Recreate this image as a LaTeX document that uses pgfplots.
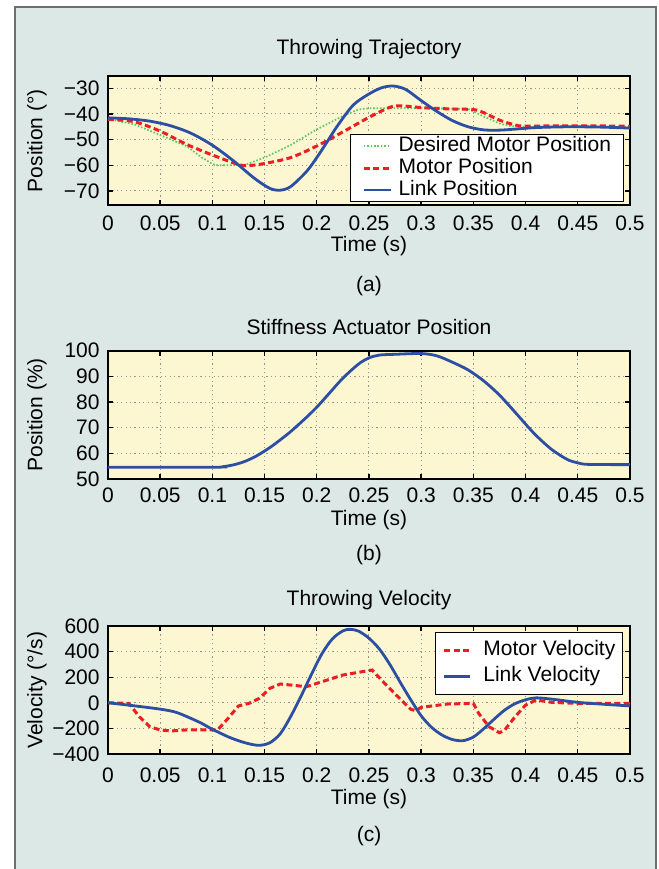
\documentclass[border=0pt]{standalone}
\usepackage{fontspec}
\setmainfont{Liberation Sans}
\usepackage{pgfplots}
\pgfplotsset{compat=1.18}
\definecolor{panelbg}{RGB}{220,232,229}
\definecolor{panelline}{RGB}{110,110,110}
\definecolor{axisbg}{RGB}{252,247,208}
\definecolor{linkblue}{RGB}{45,78,165}
\definecolor{motorred}{RGB}{236,30,36}
\definecolor{desgreen}{RGB}{90,200,100}
\definecolor{gridc}{RGB}{150,150,140}
\pgfplotsset{
  myax/.style={
    scale only axis, width=261pt, xmin=0, xmax=0.5,
    /pgf/number format/assume math mode=true,
    axis background/.style={fill=axisbg},
    axis line style={line width=0.9pt, black},
    tick align=inside, major tick length=2.5pt,
    every tick/.style={black, line width=0.7pt},
    grid=major,
    major grid style={line width=0.5pt, color=gridc, dash pattern=on 0.6pt off 1.6pt},
    xtick={0,0.05,0.1,0.15,0.2,0.25,0.3,0.35,0.4,0.45,0.5},
    xticklabels={0,0.05,0.1,0.15,0.2,0.25,0.3,0.35,0.4,0.45,0.5},
    yticklabel style={inner sep=0pt, xshift=-4pt},
    xlabel={Time (s)},
    xlabel style={at={(axis description cs:0.5,0)}, anchor=base},
    ylabel style={at={(axis description cs:-0.136,0.5)}, anchor=center},
    title style={at={(axis description cs:0.5,1)}, anchor=base},
    legend cell align=left,
  },
  linkstyle/.style={linkblue, line width=1.4pt, smooth},
  motorstyle/.style={motorred, line width=1.5pt, dash pattern=on 3pt off 1.7pt},
  desstyle/.style={desgreen, line width=0.85pt, dash pattern=on 0.8pt off 0.9pt},
}
\begin{document}
\fontsize{10.5}{12.6}\selectfont
\begin{tikzpicture}
\path[use as bounding box] (0pt,0pt) rectangle (329.5pt,-434.5pt);
\fill[white] (0pt,0pt) rectangle (329.5pt,-434.5pt);
\fill[panelbg] (7.5pt,-3.6pt) rectangle (328pt,-434.5pt);
\draw[line width=0.8pt, panelline] (7.5pt,-434.5pt) -- (7.5pt,-3.6pt) -- (328pt,-3.6pt) -- (328pt,-434.5pt);

% ---------------- (a) ----------------
\begin{axis}[myax, at={(54pt,-102.65pt)}, anchor=south west, height=64.65pt,
  ymin=-75.6, ymax=-25.2,
  ytick={-70,-60,-50,-40,-30},
  yticklabels={−70,−60,−50,−40,−30},
  ylabel={Position (°)},
  title={Throwing Trajectory}, title style={yshift=4.5pt},
  xticklabel style={inner sep=0pt, yshift=-5.3pt},
  xlabel style={yshift=-23pt},
  legend image code/.code={\path[draw=none,fill=none] (0pt,0pt) rectangle (17.2pt,0pt); \draw[#1] (3.5pt,0pt) -- (17pt,0pt);},
  legend style={at={(axis description cs:1,0)}, anchor=south east, xshift=-3.35pt, yshift=1.8pt,
    draw=black, line width=0.5pt, fill=white, inner xsep=3pt, inner ysep=0.35pt, outer sep=0pt,
    row sep=0pt, nodes={inner xsep=3.15pt, inner ysep=0.45pt, text height=7.6pt, text depth=2.5pt}},
]
\addplot[desstyle] coordinates {
(0,-42) (0.025,-44) (0.05,-48.2) (0.075,-52.5) (0.09,-57) (0.1,-59.5) (0.105,-60)
(0.13,-60) (0.15,-57) (0.175,-52.1) (0.2,-46) (0.225,-40.8) (0.24,-38.2) (0.25,-37.8)
(0.3,-37.8) (0.345,-38) (0.36,-41) (0.375,-43.7) (0.385,-44.7) (0.4,-45) (0.5,-45)};
\addlegendentry{Desired Motor Position}
\addplot[motorstyle, smooth] coordinates {
(0,-42.1) (0.025,-43) (0.05,-46.7) (0.075,-51.8) (0.1,-56) (0.125,-59.7) (0.135,-60.1)
(0.15,-59.3) (0.175,-57) (0.2,-52.5) (0.225,-47) (0.25,-41.3) (0.27,-37.4) (0.28,-36.8)
(0.3,-37.5) (0.325,-38) (0.35,-38.3) (0.36,-39.5) (0.375,-42.4) (0.39,-44.3) (0.4,-44.7)
(0.45,-44.6) (0.5,-44.8)};
\addlegendentry{Motor Position}
\addplot[linkstyle] coordinates {
(0,-41.5) (0.02,-41.9) (0.04,-42.8) (0.06,-44.6) (0.08,-47.6) (0.1,-52.2) (0.12,-58.2)
(0.14,-65.0) (0.155,-69.0) (0.165,-69.7) (0.175,-68.3) (0.19,-62.5) (0.2,-57.0) (0.21,-50.8)
(0.22,-44.5) (0.235,-36.5) (0.25,-32.2) (0.262,-29.8) (0.273,-29.1) (0.285,-30.4) (0.3,-34.8)
(0.315,-39.0) (0.33,-42.6) (0.345,-45.0) (0.36,-46.2) (0.375,-46.3) (0.39,-45.9) (0.41,-45.3)
(0.44,-45.0) (0.47,-45.1) (0.5,-45.5)};
\addlegendentry{Link Position}
\end{axis}

% ---------------- (b) ----------------
\begin{axis}[myax, at={(54pt,-239.5pt)}, anchor=south west, height=64.15pt,
  ymin=50, ymax=100,
  ytick={50,60,70,80,90,100},
  yticklabels={50,60,70,80,90,100},
  ylabel={Position (\%)},
  title={Stiffness Actuator Position}, title style={yshift=2.3pt},
  xticklabel style={inner sep=0pt, yshift=-4.2pt},
  xlabel style={yshift=-23.3pt},
]
\addplot[linkstyle] coordinates {
(0,54.6) (0.1,54.6) (0.11,54.8) (0.12,55.5) (0.13,56.7) (0.14,58.5) (0.15,60.9) (0.16,63.7)
(0.175,68.5) (0.19,74) (0.2,78) (0.21,82.5) (0.225,89.3) (0.24,94.8) (0.25,97.2) (0.26,98.3)
(0.275,98.6) (0.3,98.9) (0.315,98) (0.33,95.5) (0.345,92.5) (0.36,88.2) (0.375,82.7)
(0.39,76) (0.4,71.4) (0.41,67) (0.425,61.5) (0.44,57.6) (0.45,56.3) (0.46,55.7) (0.5,55.6)};
\end{axis}

% ---------------- (c) ----------------
\begin{axis}[myax, at={(54pt,-377.15pt)}, anchor=south west, height=64.15pt,
  ymin=-400, ymax=600,
  ytick={-400,-200,0,200,400,600},
  yticklabels={−400,−200,0,200,400,600},
  ylabel={Velocity (°/s)},
  title={Throwing Velocity}, title style={yshift=4.2pt},
  xticklabel style={inner sep=0pt, yshift=-6.5pt},
  xlabel style={yshift=-25.3pt},
  legend image code/.code={\path[draw=none,fill=none] (0pt,0pt) rectangle (20.3pt,0pt); \draw[#1] (1.5pt,0pt) -- (14.5pt,0pt);},
  legend style={at={(axis description cs:1,1)}, anchor=north east, xshift=-3.65pt, yshift=-3.15pt,
    draw=black, line width=0.5pt, fill=white, inner xsep=3pt, inner ysep=2.65pt, outer sep=0pt,
    row sep=0pt, nodes={inner xsep=0.7pt, inner ysep=1.375pt, text height=7.6pt, text depth=2.5pt}},
]
\addplot[motorstyle] coordinates {
(0,2) (0.02,-3) (0.03,-107) (0.04,-185) (0.05,-210) (0.06,-218) (0.075,-210) (0.105,-210)
(0.115,-120) (0.125,-23) (0.135,-3) (0.145,36) (0.155,114) (0.165,148) (0.175,140)
(0.19,127) (0.2,153) (0.225,218) (0.253,257) (0.265,153) (0.275,70) (0.29,-49) (0.295,-60)
(0.3,-34) (0.325,-8) (0.35,-3) (0.355,-80) (0.365,-185) (0.375,-232) (0.38,-210)
(0.39,-107) (0.4,-16) (0.41,23) (0.425,5) (0.45,-3) (0.5,-3)};
\addlegendentry{Motor Velocity}
\addplot[linkstyle] coordinates {
(0,2) (0.025,-22) (0.05,-48) (0.065,-72) (0.08,-122) (0.09,-160) (0.1,-205) (0.115,-263)
(0.125,-294) (0.135,-318) (0.145,-330) (0.155,-310) (0.165,-240) (0.175,-105) (0.185,55)
(0.195,225) (0.205,385) (0.215,500) (0.225,562) (0.232,574) (0.24,560) (0.25,505) (0.26,420)
(0.27,300) (0.28,160) (0.29,25) (0.3,-100) (0.31,-190) (0.32,-250) (0.33,-285) (0.34,-294)
(0.35,-265) (0.36,-200) (0.37,-125) (0.38,-55) (0.39,-5) (0.4,25) (0.41,40) (0.425,30)
(0.45,5) (0.475,-10) (0.5,-23)};
\addlegendentry{Link Velocity}
\end{axis}

\node at (184.5pt,-143pt) {(a)};
\node at (184.5pt,-277.5pt) {(b)};
\node at (184.5pt,-418pt) {(c)};
\end{tikzpicture}
\end{document}
